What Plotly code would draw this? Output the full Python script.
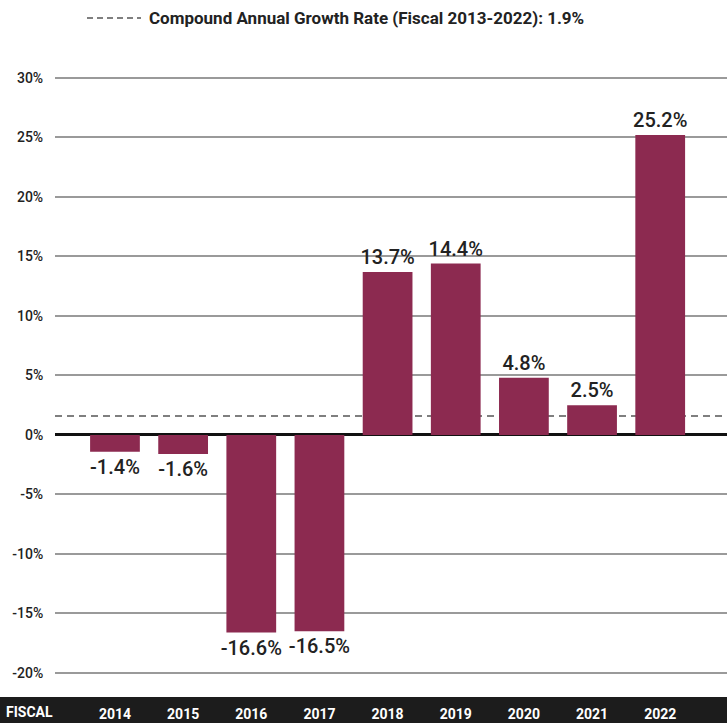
import plotly.graph_objects as go

years = [2014, 2015, 2016, 2017, 2018, 2019, 2020, 2021, 2022]
year_labels = ["2014", "2015", "2016", "2017", "2018", "2019", "2020", "2021", "2022"]
growth = [-1.4, -1.6, -16.6, -16.5, 13.7, 14.4, 4.8, 2.5, 25.2]
bar_text = ["-1.4%", "-1.6%", "-16.6%", "-16.5%", "13.7%", "14.4%", "4.8%", "2.5%", "25.2%"]
cagr_level = 1.6
cagr_label = "Compound Annual Growth Rate (Fiscal 2013-2022): 1.9%"
y_ticks = [-20, -15, -10, -5, 0, 5, 10, 15, 20, 25, 30]
y_tick_labels = ["-20%", "-15%", "-10%", "-5%", "0%", "5%", "10%", "15%", "20%", "25%", "30%"]

FONT = "Roboto, Lato, Liberation Sans, sans-serif"
BAR = "#8C2A50"
INK = "#222222"

W, H = 727, 723
ML, MR, MT, MB = 55, 0, 70, 33
ph = H - MT - MB
pw = W - ML - MR
base = MT + ph  # pixel y of plot bottom


def py(pix):
    """paper y coordinate from pixel row"""
    return (base - pix) / ph


def px(pix):
    return (pix - ML) / pw


fig = go.Figure()
fig.add_trace(go.Bar(
    x=years, y=growth, width=0.73, marker_color=BAR, marker_line_width=0,
    text=bar_text, textposition="outside", cliponaxis=False, constraintext="none",
    textfont=dict(family=FONT, size=20, color=INK, weight=500),
    showlegend=False, hoverinfo="skip",
))

shapes = [
    dict(type="line", xref="paper", x0=0, x1=1, yref="y", y0=cagr_level, y1=cagr_level,
         line=dict(color="#555555", width=1.5, dash="7px,5px"), layer="below"),
    dict(type="line", xref="paper", yref="paper",
         x0=px(87), x1=px(141), y0=py(18), y1=py(18),
         line=dict(color="#555555", width=1.5, dash="6px,4px")),
    dict(type="rect", xref="paper", yref="paper",
         x0=px(-2), x1=px(W + 2), y0=py(H + 5), y1=py(697),
         fillcolor="#1c1c1c", line=dict(width=0), layer="below"),
]

annotations = [
    dict(text="<b>" + cagr_label + "</b>", xref="paper", yref="paper",
         x=px(147), y=py(18), xanchor="left", yanchor="middle",
         showarrow=False, font=dict(family=FONT, size=17, color=INK)),
    dict(text="<b>FISCAL</b>", xref="paper", yref="paper",
         x=px(4), y=py(712), xanchor="left", yanchor="middle",
         showarrow=False, font=dict(family=FONT, size=14, color="white")),
]

fig.update_layout(
    width=W, height=H,
    margin=dict(l=ML, r=MR, t=MT, b=MB, autoexpand=False),
    paper_bgcolor="white", plot_bgcolor="white",
    font=dict(family=FONT, color=INK),
    shapes=shapes, annotations=annotations,
    showlegend=False,
    xaxis=dict(
        tickvals=years, ticktext=["<b>%s</b>" % t for t in year_labels],
        range=[2013.12, 2022.98], showgrid=False, zeroline=False,
        ticks="outside", ticklen=11, tickcolor="rgba(0,0,0,0)",
        tickfont=dict(family=FONT, size=14, color="white"),
        automargin=False, fixedrange=True,
    ),
    yaxis=dict(
        range=[-21.43, 30.67], tickvals=y_ticks, ticktext=y_tick_labels,
        showgrid=True, gridcolor="#9a9a9a", gridwidth=1.5,
        zeroline=True, zerolinecolor="#111111", zerolinewidth=2.5,
        ticks="outside", ticklen=8, tickcolor="rgba(0,0,0,0)",
        tickfont=dict(family=FONT, size=14, color=INK, weight=500),
        automargin=False, fixedrange=True,
    ),
)

fig.write_html(
    "out.html",
    config={"displayModeBar": False},
    post_script="document.body.style.margin='0px';document.body.style.overflow='hidden';",
)
